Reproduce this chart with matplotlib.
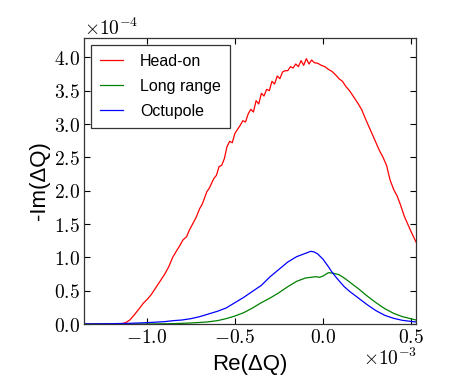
import matplotlib
matplotlib.use("Agg")
import matplotlib.pyplot as plt
import numpy as np
from matplotlib.ticker import FuncFormatter, MultipleLocator

plt.rcParams['mathtext.fontset'] = 'cm'

# x in units of 1e-3, y in units of 1e-4
XSCALE = 1e-3
YSCALE = 1e-4

head_x = [-1.356, -1.20, -1.15, -1.12, -1.096, -1.07, -1.04, -1.02, -0.994, -0.975, -0.955, -0.93,
          -0.90, -0.875, -0.853, -0.835, -0.814, -0.795, -0.774, -0.76, -0.740, -0.72, -0.70, -0.685,
          -0.66, -0.645, -0.62, -0.605, -0.59, -0.575, -0.56, -0.545, -0.53, -0.515, -0.50, -0.485,
          -0.47, -0.455, -0.44, -0.425, -0.41, -0.395, -0.38, -0.365, -0.35, -0.335, -0.32, -0.305,
          -0.29, -0.275, -0.26, -0.245, -0.23, -0.215, -0.20, -0.185, -0.17, -0.155, -0.14, -0.125,
          -0.11, -0.095, -0.08, -0.065, -0.05, -0.03, -0.01, 0.01, 0.03, 0.05, 0.07, 0.09, 0.11,
          0.13, 0.15, 0.175, 0.20, 0.22, 0.24, 0.26, 0.28, 0.30, 0.32, 0.34, 0.36, 0.38, 0.40,
          0.42, 0.44, 0.46, 0.48, 0.50, 0.527]
head_y = [0.0, 0.0, 0.0, 0.02, 0.06, 0.14, 0.24, 0.31, 0.38, 0.44, 0.52, 0.62,
          0.74, 0.86, 1.00, 1.08, 1.17, 1.26, 1.31, 1.40, 1.50, 1.60, 1.73, 1.80,
          1.98, 2.04, 2.18, 2.23, 2.36, 2.38, 2.48, 2.66, 2.74, 2.72, 2.86, 2.92,
          2.98, 3.05, 3.03, 3.15, 3.22, 3.18, 3.35, 3.30, 3.46, 3.42, 3.52, 3.50,
          3.64, 3.60, 3.72, 3.68, 3.78, 3.80, 3.80, 3.86, 3.84, 3.90, 3.86, 3.95,
          3.88, 3.98, 3.90, 3.96, 3.92, 3.91, 3.88, 3.86, 3.82, 3.79, 3.74, 3.68, 3.64,
          3.56, 3.50, 3.40, 3.30, 3.21, 3.08, 2.96, 2.84, 2.72, 2.60, 2.50, 2.38, 2.16, 2.02,
          1.92, 1.78, 1.62, 1.50, 1.38, 1.23]

long_x = [-1.356, -1.0, -0.85, -0.75, -0.66, -0.6, -0.55, -0.5, -0.45, -0.40, -0.35, -0.30,
          -0.25, -0.20, -0.15, -0.10, -0.07, -0.04, -0.02, 0.00, 0.03, 0.06, 0.09, 0.12,
          0.15, 0.20, 0.25, 0.30, 0.35, 0.40, 0.45, 0.527]
long_y = [0.0, 0.0, 0.005, 0.015, 0.03, 0.05, 0.08, 0.12, 0.17, 0.24, 0.32, 0.39,
          0.47, 0.56, 0.64, 0.69, 0.70, 0.71, 0.70, 0.72, 0.77, 0.76, 0.74, 0.69,
          0.63, 0.53, 0.42, 0.32, 0.23, 0.16, 0.11, 0.06]

oct_x = [-1.356, -1.2, -1.1, -1.0, -0.9, -0.85, -0.8, -0.75, -0.7, -0.65, -0.6, -0.55,
         -0.5, -0.45, -0.40, -0.35, -0.30, -0.25, -0.20, -0.15, -0.10, -0.07, -0.05, -0.03,
         0.00, 0.03, 0.05, 0.08, 0.12, 0.15, 0.20, 0.25, 0.30, 0.35, 0.40, 0.45, 0.527]
oct_y = [0.0, 0.005, 0.01, 0.02, 0.035, 0.05, 0.06, 0.08, 0.11, 0.15, 0.19, 0.24,
         0.32, 0.40, 0.49, 0.58, 0.71, 0.82, 0.93, 1.01, 1.06, 1.09, 1.08, 1.05,
         0.97, 0.86, 0.78, 0.68, 0.56, 0.49, 0.39, 0.29, 0.20, 0.13, 0.085, 0.055, 0.03]

labels = ["Head-on", "Long range", "Octupole"]
colors = ["#ff0000", "#008000", "#0000ff"]

fig = plt.figure(figsize=(4.63, 3.82), dpi=100)
ax = fig.add_axes([84 / 463, 1 - 324 / 382, 332 / 463, 286 / 382])

for xs, ys, lab, c in zip([head_x, long_x, oct_x], [head_y, long_y, oct_y], labels, colors):
    ax.plot(np.array(xs) * XSCALE, np.array(ys) * YSCALE, color=c, lw=0.9, label=lab)

ax.set_xlim(-1.356 * XSCALE, 0.527 * XSCALE)
ax.set_ylim(0, 4.29 * YSCALE)
ax.xaxis.set_major_locator(MultipleLocator(0.5 * XSCALE))
ax.yaxis.set_major_locator(MultipleLocator(0.5 * YSCALE))
ax.xaxis.set_major_formatter(FuncFormatter(lambda v, p: r'$%.1f$' % (v / XSCALE + 0.0)))
ax.yaxis.set_major_formatter(FuncFormatter(lambda v, p: r'$%.1f$' % (v / YSCALE + 0.0)))
ax.tick_params(direction='in', length=4, width=0.8, top=True, right=True,
               labelsize=14, pad=3)
for s in ax.spines.values():
    s.set_linewidth(0.9)
    s.set_color('#333333')

fs = ['Liberation Sans Narrow', 'Liberation Sans']
ax.set_xlabel('Re(\u0394Q)', fontsize=16, family=fs, labelpad=5)
ax.set_ylabel('-Im(\u0394Q)', fontsize=16, family=fs, labelpad=3)

ax.text(0.0, 1.0105, r'$\times10^{-4}$', transform=ax.transAxes, fontsize=14,
        ha='left', va='baseline')
ax.text(1.005, -0.142, r'$\times10^{-3}$', transform=ax.transAxes, fontsize=14,
        ha='right', va='baseline')

leg = ax.legend(loc='upper left', prop={'family': fs, 'size': 11.5}, fancybox=False,
                framealpha=1, edgecolor='#333333', handlelength=1.45, handletextpad=1.05,
                borderaxespad=0.45, labelspacing=0.62, borderpad=0.55)
leg.get_frame().set_linewidth(0.9)

fig.savefig('out.png', dpi=100)
